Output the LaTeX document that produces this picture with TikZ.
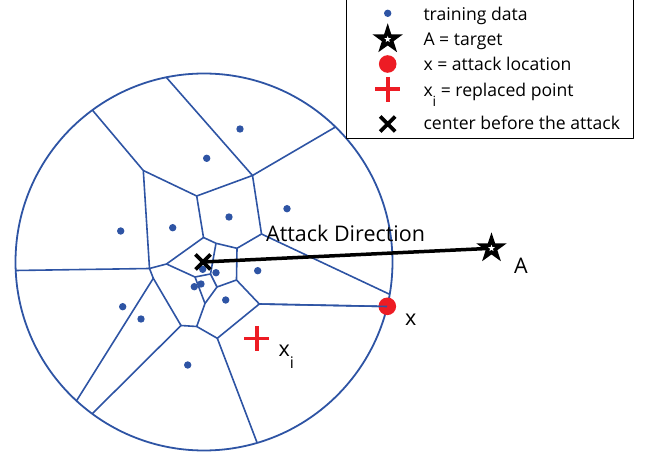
\documentclass[tikz,border=0pt]{standalone}
\usepackage{fontspec}
\setmainfont{Open Sans}
\usetikzlibrary{calc,shapes.geometric}
\definecolor{cellblue}{RGB}{46,84,164}
\definecolor{attackred}{RGB}{237,28,36}
\def\xmark(#1){\draw[line width=3.8pt] ($(#1)+(-7.5,-7.5)$) -- ($(#1)+(7.5,7.5)$) ($(#1)+(-7.5,7.5)$) -- ($(#1)+(7.5,-7.5)$);}
\def\plusmark(#1){\draw[line width=3.8pt, attackred] ($(#1)+(-12.5,0)$) -- ($(#1)+(12.5,0)$) ($(#1)+(0,-12.5)$) -- ($(#1)+(0,12.5)$);}
\def\starmark(#1)#2{\node[bigstar] (#2) at (#1) {}; \node[smallstar] (#2w) at (#1) {};}

\begin{document}
\begin{tikzpicture}[x=1pt, y=-1pt, line join=round,
	cell/.style={cellblue, line width=1.6pt},
	dot/.style={cellblue},
	bigstar/.style={star, star points=5, star point ratio=2.6, fill=black, minimum size=32pt, inner sep=0pt},
	smallstar/.style={star, star points=5, star point ratio=2.4, fill=white, minimum size=7pt, inner sep=0pt},
	lbl/.style={font=\fontsize{21.5}{25}\selectfont, inner sep=0pt, anchor=base west},
	legtxt/.style={font=\fontsize{17.6}{21}\selectfont, inner sep=0pt, anchor=base west}]
	\useasboundingbox (0,0) rectangle (649,457);
	\clip (0,0) rectangle (649,457);
	
	%%%%% CELLS %%%%%
	\coordinate (ctr) at (203,262);
	\draw[cell, line width=1.8pt] (204,262) circle (188.5);
	
	\coordinate (b1) at (166,77);
	\coordinate (b2) at (92.3,110);
	\coordinate (b3) at (335.5,127);
	\coordinate (b4) at (15.5,270.5);
	\coordinate (b5) at (389,294);
	\coordinate (b6) at (387,306.5);
	\coordinate (b7) at (76.7,400.5);
	\coordinate (b8) at (92.7,413.3);
	\coordinate (b9) at (257,442.5);
	
	\coordinate (v1) at (143.3,170.5);
	\coordinate (v2) at (252.5,175.5);
	\coordinate (v3) at (196.7,196);
	\coordinate (v4) at (203.5,237.5);
	\coordinate (v5) at (261.5,234);
	\coordinate (v6) at (149.5,268.5);
	\coordinate (v7) at (153.3,278.3);
	\coordinate (v9) at (236.5,280);
	\coordinate (v11) at (181,325.5);
	\coordinate (v12) at (259.3,304);
	\coordinate (v13) at (196.7,326.5);
	\coordinate (v14) at (217.3,338.3);
	\coordinate (va) at (216,243.3);
	\coordinate (vb) at (237,248.3);
	\coordinate (vc) at (166.5,264);
	\coordinate (vd) at (195,277);
	\coordinate (ve) at (217,287);
	\coordinate (vf) at (205,303.5);
	\coordinate (vg) at (210.5,274);
	
	\draw[cell] (b2) -- (v1) -- (v6) -- (b4);
	\draw[cell] (v1) -- (v3) -- (v4) -- (vc) -- (v6);
	\draw[cell] (v3) -- (v2) -- (b1);
	\draw[cell] (v2) -- (b3);
	\draw[cell] (v2) -- (v5) -- (b5);
	\draw[cell] (v4) -- (va) -- (vb) -- (v5);
	\draw[cell] (vb) -- (v9) -- (v12) -- (b6);
	\draw[cell] (va) -- (vg) -- (vd) -- (vc);
	\draw[cell] (v6) -- (v7) -- (b7);
	\draw[cell] (v7) -- (v11) -- (b8);
	\draw[cell] (v11) -- (v13) -- (v14) -- (b9);
	\draw[cell] (v14) -- (v12);
	\draw[cell] (vd) -- (vf) -- (v13);
	\draw[cell] (vg) -- (ve) -- (v9);
	\draw[cell] (ve) -- (vf);
	
	\foreach \p in {(240,129),(206.7,158.3),(287,208.7),(229,217),(172.7,227.7),(120.7,231),
		(202.7,269.3),(216,272.7),(257.7,270.7),(194.3,286.7),(201,284),(225.7,300),
		(122.7,306.7),(141,319),(187.7,365)}
		\fill[dot] \p circle (3.7);
	
	%%%%% ATTACK %%%%%
	\coordinate (tgt) at (491.5,248.3);
	\coordinate (xloc) at (387.3,306.3);
	\coordinate (xrep) at (256.7,338.5);
	
	\draw[line width=3.5pt] (ctr) -- (tgt);
	\xmark(ctr)
	\starmark(tgt){tgtstar}
	\fill[attackred] (xloc) circle (8.8);
	\draw[cell] (v12) -- (b6);
	\plusmark(xrep)
	
	\node[lbl] (dirlbl) at (266,241.7) {Attack Direction};
	\node[lbl] (tgtlbl) at (514,274) {A};
	\node[lbl] (xloclbl) at (405,326) {x};
	\node[lbl] (xreplbl) at (278.3,356.7) {x\raisebox{-11.5pt}{\fontsize{16}{18}\selectfont i}};
	
	%%%%% LEGEND %%%%%
	\draw[line width=1.4pt, fill=white] (346.7,-5) rectangle (633.3,138.3);
	\coordinate (l1) at (387.7,13.3);
	\coordinate (l2) at (387.7,39.3);
	\coordinate (l3) at (387.7,64);
	\coordinate (l4) at (387.7,89.3);
	\coordinate (l5) at (387.7,124);
	\fill[dot] (l1) circle (3.7);
	\starmark(l2){legstar}
	\fill[attackred] (l3) circle (8.8);
	\plusmark(l4)
	\xmark(l5)
	\node[legtxt] (leg1) at (423.3,20.7) {training data};
	\node[legtxt] (leg2) at (423.3,46) {A = target};
	\node[legtxt] (leg3) at (423.3,71) {x = attack location};
	\node[legtxt] (leg4) at (423.3,96.7) {x\raisebox{-10pt}{\fontsize{14}{16}\selectfont i} = replaced point};
	\node[legtxt] (leg5) at (423.3,130) {center before the attack};
\end{tikzpicture}
\end{document}
